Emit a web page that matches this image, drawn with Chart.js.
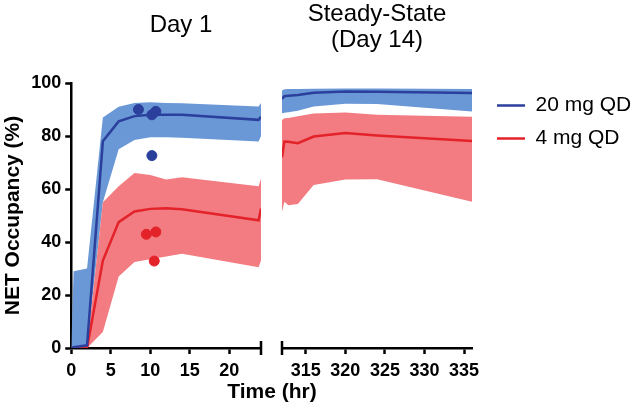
<!DOCTYPE html>
<html>
<head>
<meta charset="utf-8">
<script src="https://cdn.jsdelivr.net/npm/chart.js@4.4.1/dist/chart.umd.min.js"></script>
<style>
html, body { margin: 0; padding: 0; width: 640px; height: 413px; overflow: hidden; background: #fff; }
#wrap { position: relative; width: 640px; height: 413px; overflow: hidden; }
canvas { position: absolute; top: 0; }
#day1 { left: 0; }
#steady { left: 268px; }
#xtitle {
    position: absolute; left: 272px; top: 379px; transform: translateX(-50%);
    font: bold 21px "Liberation Sans", Arial, sans-serif; line-height: 24px; white-space: nowrap; color: #000;
}
</style>
</head>
<body>
<div id="wrap">
    <canvas id="day1" width="362" height="413"></canvas>
    <canvas id="steady" width="400" height="413"></canvas>
    <div id="xtitle">Time (hr)</div>
</div>
<script>
// Day 1 simulation (hr)
const dayTimes   = [0, 0.3, 2, 4, 6, 8, 10, 12, 14, 23.7, 24];
const dayBlueMid = [0, 0.3, 1, 78, 85.5, 87.5, 88, 88, 88, 86.1, 87.3];
const dayBlueHi  = [0, 29, 30, 87, 91, 92.5, 92.7, 92.5, 92.4, 91.1, 92.5];
const dayBlueLo  = [0, 0, 0, 55, 75, 78.5, 79.5, 79.5, 79.3, 77.9, 80];
const dayRedMid  = [0, 0, 0, 33, 47.5, 51.5, 52.5, 52.7, 52.4, 48.2, 52.6];
const dayRedHi   = [0, 0, 0, 55, 61, 66, 65.3, 63.6, 64.4, 61, 64];
const dayRedLo   = [0, 0, 0, 6, 27, 32.5, 33.5, 34.5, 35.6, 30.5, 33];

// observed data, day 1
const obsBlueT = [8.5, 10.2, 10.7, 10.2];
const obsBlueY = [90, 88, 89.3, 72.6];
const obsRedT  = [9.5, 10.7, 10.5];
const obsRedY  = [42.9, 43.8, 32.8];

// steady state (day 14)
const ssTimes   = [312, 312.3, 312.8, 314, 316, 320, 324, 336];
const ssBlueMid = [94, 95, 95.2, 95.5, 96.3, 96.8, 96.7, 96.2];
const ssBlueHi  = [97.2, 97.6, 97.7, 97.7, 97.8, 97.9, 97.9, 97.7];
const ssBlueLo  = [88.6, 88.8, 89, 89.5, 91.1, 92.2, 92.1, 89.2];
const ssRedMid  = [72, 77.9, 77.8, 77.3, 79.8, 81.1, 80.2, 78.1];
const ssRedHi   = [86, 86.7, 86.8, 87.5, 88.5, 88.9, 88, 87.3];
const ssRedLo   = [51.4, 55.2, 53.9, 54.3, 61.5, 63.6, 63.7, 55.2];

const seriesLabels = ['20 mg QD', '4 mg QD'];
const dayTicks = [0, 5, 10, 15, 20];
const ssTicks = [315, 320, 325, 330, 335];
const yTicksStep = 20;

const BLUE_LINE = '#2b3f9c';
const BLUE_BAND = '#6a98d6';
const RED_LINE = '#e3222a';
const RED_BAND = '#f27c81';

Chart.defaults.font.family = '"Liberation Sans", Arial, sans-serif';
Chart.defaults.color = '#000';

function pts(ts, vs) {
    return ts.map((t, i) => ({ x: t, y: vs[i] }));
}

function lineSet(label, ts, vs, color) {
    return { label: label, data: pts(ts, vs), borderColor: color, backgroundColor: color,
             borderWidth: 2.5, pointRadius: 0, tension: 0, fill: false, order: 1 };
}

function bandSets(ts, hi, lo, color, order) {
    return [
        { data: pts(ts, hi), fill: '+1', backgroundColor: color, borderColor: 'transparent',
          borderWidth: 0, pointRadius: 0, tension: 0, order: order },
        { data: pts(ts, lo), fill: false, backgroundColor: color, borderColor: 'transparent',
          borderWidth: 0, pointRadius: 0, tension: 0, order: order }
    ];
}

// axis break bar
const breakMark = {
    id: 'breakMark',
    afterDraw(chart, args, opts) {
        const xs = chart.scales.x;
        const ctx = chart.ctx;
        const px = opts.edge === 'right' ? xs.right : xs.left;
        ctx.save();
        ctx.strokeStyle = '#000';
        ctx.lineWidth = 2.5;
        ctx.beginPath();
        ctx.moveTo(px, xs.top - 7);
        ctx.lineTo(px, xs.top + 7);
        ctx.stroke();
        ctx.restore();
    }
};

// push the legend a little away from the plot
const legendShift = {
    id: 'legendShift',
    afterLayout(chart, args, opts) {
        if (chart.legend) {
            chart.legend.left += opts.dx;
            chart.legend.right += opts.dx;
        }
    }
};

const tickFont = { size: 18, weight: 'bold' };
const axisGrid = { drawOnChartArea: false, tickLength: 6, tickWidth: 2.5, tickColor: '#000' };
const axisBorder = { color: '#000', width: 2.5 };
const useTicks = list => scale => { scale.ticks = list.map(v => ({ value: v })); };
// empty scale used only as a spacer
const spacer = w => ({ position: 'right', min: 0, max: 100, ticks: { display: false },
                       grid: { display: false }, border: { display: false },
                       afterFit: s => { s.width = w; } });

new Chart(document.getElementById('day1'), {
    type: 'line',
    data: {
        datasets: [
            { type: 'scatter', data: pts(obsBlueT, obsBlueY), backgroundColor: BLUE_LINE, borderColor: BLUE_LINE, pointRadius: 5, order: 0 },
            { type: 'scatter', data: pts(obsRedT, obsRedY), backgroundColor: RED_LINE, borderColor: RED_LINE, pointRadius: 5, order: 0 },
            lineSet(seriesLabels[0], dayTimes, dayBlueMid, BLUE_LINE),
            lineSet(seriesLabels[1], dayTimes, dayRedMid, RED_LINE),
            ...bandSets(dayTimes, dayRedHi, dayRedLo, RED_BAND, 2),
            ...bandSets(dayTimes, dayBlueHi, dayBlueLo, BLUE_BAND, 3)
        ]
    },
    options: {
        responsive: false,
        animation: false,
        layout: { padding: { left: 0, right: 0, top: 0, bottom: 25.4 } },
        plugins: {
            legend: { display: false },
            tooltip: { enabled: false },
            title: { display: true, text: 'Day 1', font: { size: 24, weight: 'normal', lineHeight: 1.1 },
                     color: '#000', padding: { top: 12, bottom: 44.6 } },
            breakMark: { edge: 'right' }
        },
        scales: {
            x: { type: 'linear', min: 0, max: 24,
                 ticks: { font: tickFont, color: '#000', padding: 6, maxRotation: 0 },
                 grid: axisGrid, border: axisBorder, afterBuildTicks: useTicks(dayTicks) },
            y: { min: 0, max: 100,
                 ticks: { stepSize: yTicksStep, font: tickFont, color: '#000', padding: 4 },
                 grid: axisGrid, border: axisBorder,
                 title: { display: true, text: 'NET Occupancy (%)', font: { size: 21, weight: 'bold' },
                          color: '#000', padding: { top: 1, bottom: 1 } } },
            gap: spacer(101)
        }
    },
    plugins: [breakMark]
});

new Chart(document.getElementById('steady'), {
    type: 'line',
    data: {
        datasets: [
            lineSet(seriesLabels[0], ssTimes, ssBlueMid, BLUE_LINE),
            lineSet(seriesLabels[1], ssTimes, ssRedMid, RED_LINE),
            ...bandSets(ssTimes, ssRedHi, ssRedLo, RED_BAND, 2),
            ...bandSets(ssTimes, ssBlueHi, ssBlueLo, BLUE_BAND, 3)
        ]
    },
    options: {
        responsive: false,
        animation: false,
        layout: { padding: { left: 14, right: 39.8, top: 0, bottom: 25.4 } },
        plugins: {
            legend: {
                position: 'right', align: 'start', fullSize: false,
                labels: { usePointStyle: true, pointStyle: 'line', pointStyleWidth: 28, padding: 12,
                          color: '#000', font: { size: 21 }, filter: item => !!item.text }
            },
            legendShift: { dx: 13 },
            tooltip: { enabled: false },
            title: { display: true, fullSize: false, text: ['Steady-State', '(Day 14)'],
                     font: { size: 24, weight: 'normal', lineHeight: 1.1 }, color: '#000',
                     padding: { top: 1, bottom: 29.2 } },
            breakMark: { edge: 'left' }
        },
        scales: {
            x: { type: 'linear', min: 312, max: 336,
                 ticks: { font: tickFont, color: '#000', padding: 6, maxRotation: 0 },
                 grid: axisGrid, border: axisBorder, afterBuildTicks: useTicks(ssTicks) },
            y: { display: false, min: 0, max: 100 }
        }
    },
    plugins: [breakMark, legendShift]
});
</script>
</body>
</html>
